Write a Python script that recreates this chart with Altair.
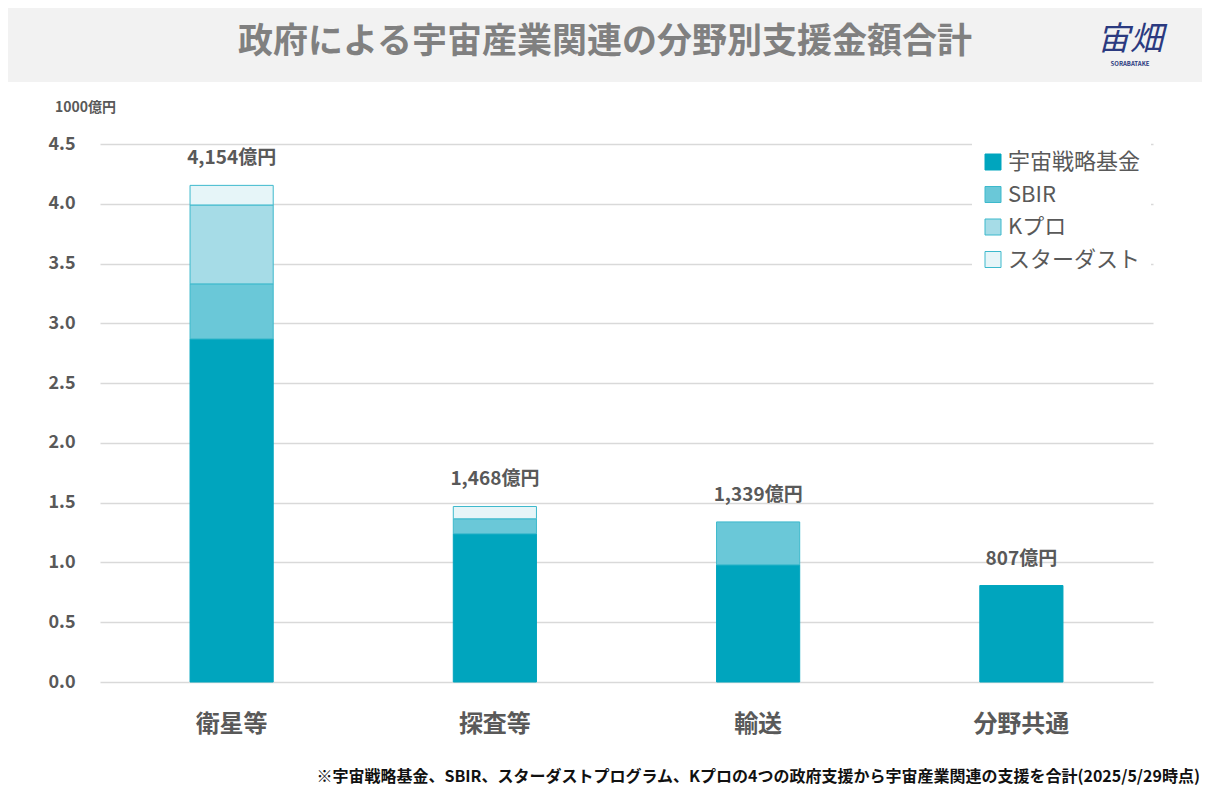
import altair as alt
import pandas as pd

categories = ["衛星等", "探査等", "輸送", "分野共通"]
series = ["宇宙戦略基金", "SBIR", "Kプロ", "スターダスト"]
fund_values = [2.87, 1.24, 0.98, 0.807]
sbir_values = [0.46, 0.125, 0.359, 0.0]
kpro_values = [0.66, 0.0, 0.0, 0.0]
stardust_values = [0.164, 0.103, 0.0, 0.0]
total_values = [4.154, 1.468, 1.339, 0.807]
total_labels = ["4,154億円", "1,468億円", "1,339億円", "807億円"]
y_ticks = [0.0, 0.5, 1.0, 1.5, 2.0, 2.5, 3.0, 3.5, 4.0, 4.5]

series_colors = ["#00A5BE", "#6AC8D8", "#A6DCE7", "#E6F5F8"]
series_strokes = ["#00A5BE", "#3DB9CC", "#3DB9CC", "#3DB9CC"]

rows = []
for si, (name, vals) in enumerate(zip(series, [fund_values, sbir_values, kpro_values, stardust_values])):
    for c, v in zip(categories, vals):
        if v > 0:
            rows.append({"category": c, "series": name, "value": v, "idx": si})
df = pd.DataFrame(rows)
tot = pd.DataFrame({"category": categories, "total": total_values, "label": total_labels})

FONT = "Noto Sans CJK JP"
GRAY = "#595959"
W, H = 1053, 538

xenc = alt.X("category:N", sort=categories,
             scale=alt.Scale(paddingInner=0.684, paddingOuter=0.342),
             axis=alt.Axis(title=None, labelAngle=0, labelFontSize=24, labelFontWeight="bold",
                           labelColor=GRAY, labelFont=FONT, labelPadding=30,
                           ticks=False, domain=False, grid=False))

bars = alt.Chart(df).mark_bar(strokeWidth=1).encode(
    x=xenc,
    y=alt.Y("value:Q", stack="zero", scale=alt.Scale(domain=[0, 4.5], nice=False),
            axis=alt.Axis(title=None, values=y_ticks, format=".1f", labelFontSize=18,
                          labelFontWeight="bold", labelColor=GRAY, labelFont=FONT,
                          labelPadding=25, ticks=False, domain=False,
                          gridColor="#D9D9D9", gridWidth=1.5)),
    fill=alt.Fill("series:N", sort=series,
                  scale=alt.Scale(domain=series, range=series_colors),
                  legend=alt.Legend(title=None, orient="none", legendX=872, legendY=-3,
                                    symbolType="square", symbolSize=256,
                                    symbolStrokeColor="#3DB9CC", symbolStrokeWidth=1,
                                    labelFontSize=22, labelColor=GRAY, labelFont=FONT,
                                    rowPadding=10.5, labelOffset=4, padding=10,
                                    fillColor="white")),
    stroke=alt.Stroke("series:N", scale=alt.Scale(domain=series, range=series_strokes), legend=None),
    order=alt.Order("idx:Q", sort="ascending"),
)

labels = alt.Chart(tot).mark_text(dy=-27, fontSize=19, fontWeight="bold", color=GRAY,
                                  font=FONT, baseline="middle").encode(
    x=alt.X("category:N", sort=categories),
    y=alt.Y("total:Q"),
    text="label:N",
)

one = pd.DataFrame({"a": [0]})
band = alt.Chart(one).mark_rect(color="#F2F2F2").encode(
    x=alt.value(-92), x2=alt.value(1102), y=alt.value(-136), y2=alt.value(-62))
title = alt.Chart(one).mark_text(text="政府による宇宙産業関連の分野別支援金額合計", fontSize=35,
                                 fontWeight="bold", color="#808080", font=FONT,
                                 align="center", baseline="middle").encode(
    x=alt.value(505), y=alt.value(-102))
logo = alt.Chart(one).mark_text(text="宙畑", fontSize=33, fontStyle="italic", color="#2B3A80",
                                font=FONT, align="center", baseline="middle").encode(
    x=alt.value(1030), y=alt.value(-104))
logo_sub = alt.Chart(one).mark_text(text="SORABATAKE", fontSize=6, fontWeight="bold",
                                    color="#2B3A80", font=FONT, align="center",
                                    baseline="middle").encode(
    x=alt.value(1030), y=alt.value(-80))
unit = alt.Chart(one).mark_text(text="1000億円", fontSize=14, fontWeight="bold", color=GRAY,
                                font=FONT, align="left", baseline="middle").encode(
    x=alt.value(-45), y=alt.value(-36))
note = alt.Chart(one).mark_text(
    text="※宇宙戦略基金、SBIR、スターダストプログラム、Kプロの4つの政府支援から宇宙産業関連の支援を合計(2025/5/29時点)",
    fontSize=16, fontWeight="bold", color="#111111", font=FONT,
    align="right", baseline="middle").encode(
    x=alt.value(1100), y=alt.value(633))

chart = alt.layer(band, title, logo, logo_sub, unit, note, bars, labels).properties(
    width=W, height=H,
    autosize=alt.AutoSizeParams(type="none"),
    padding={"left": 92, "top": 136, "right": 49, "bottom": 115},
    background="white",
).resolve_scale(fill="independent", stroke="independent").configure_view(stroke=None)

chart.save("out.html", embed_options={"renderer": "svg", "actions": False})
